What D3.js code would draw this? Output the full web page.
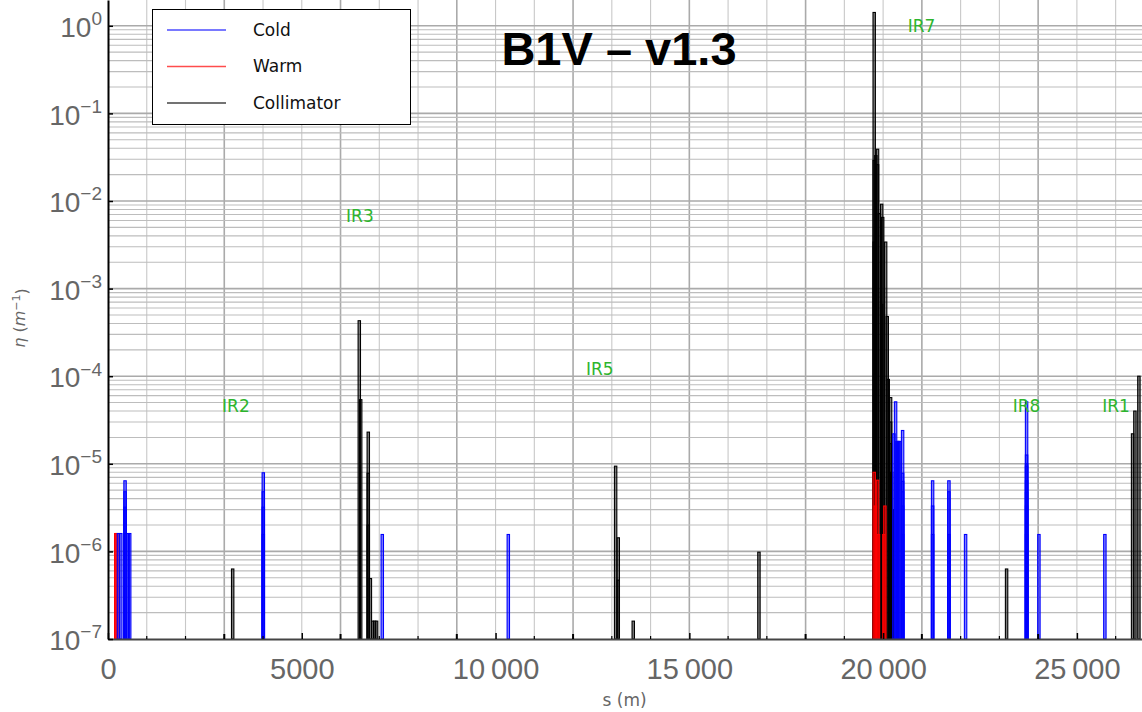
<!DOCTYPE html>
<html>
<head>
<meta charset="utf-8">
<script src="https://cdn.jsdelivr.net/npm/d3@7"></script>
<style>
  body { margin: 0; background: #fff; }
  svg { display: block; font-family: "DejaVu Sans", sans-serif; }
</style>
</head>
<body>
<div id="chart"></div>
<script>
// loss positions s (m) and eta (1/m)
const coldS   = [270, 330, 440, 440, 440, 450, 520, 560,
                 4007, 4007, 4007, 4007, 7077, 10329,
                 20279, 20322, 20356, 20380, 20405, 20433, 20503, 20503, 20503, 20503, 20503, 20503,
                 21277, 21277, 21277, 21698, 21698, 21698, 22128,
                 23702, 23702, 23702, 23702, 23702, 23702, 23702, 23702, 24020, 25722];
const coldEta = [1.6e-6, 1.6e-6, 6.4e-6, 4.8e-6, 3.2e-6, 1.6e-6, 1.6e-6, 1.6e-6,
                 7.9e-6, 4.8e-6, 3.2e-6, 1.56e-6, 1.56e-6, 1.56e-6,
                 2.2e-5, 5.1e-5, 1.8e-5, 1.8e-5, 1.8e-5, 1.8e-5, 2.4e-5, 7.8e-6, 6.3e-6, 4.8e-6, 3.3e-6, 1.56e-6,
                 6.4e-6, 3.3e-6, 1.56e-6, 6.4e-6, 4.8e-6, 1.56e-6, 1.56e-6,
                 5.1e-5, 1.26e-5, 9.4e-6, 6.4e-6, 4.7e-6, 3.3e-6, 1.56e-6, 1.0e-5, 1.56e-6, 1.56e-6];

const warmS   = [200, 230, 19770, 19857, 19800, 19880, 20046, 20020];
const warmEta = [1.6e-6, 1.6e-6, 8.0e-6, 6.5e-6, 3.3e-6, 1.56e-6, 3.3e-6, 1.56e-6];

const collS   = [3217, 6484, 6520, 6716, 6716, 6716, 6770, 6830, 6880, 6930,
                 13098, 13166, 13166, 13553, 16796,
                 19770, 19770, 19770, 19813, 19856, 19856, 19902, 19963, 19963, 19989,
                 20065, 20106, 20132, 20193, 20193, 20193, 20220, 20240,
                 23186, 26437, 26497, 26600];
const collEta = [6.3e-7, 4.3e-4, 5.4e-5, 2.3e-5, 7.8e-6, 2.0e-6, 4.9e-7, 1.6e-7, 1.6e-7, 1.6e-7,
                 9.4e-6, 1.43e-6, 4.7e-7, 1.6e-7, 9.8e-7,
                 1.42, 0.029, 3.4e-3, 0.033, 0.039, 0.026, 7.2e-3, 9.2e-3, 6.6e-4, 6.5e-3,
                 3.4e-3, 4.8e-4, 9.2e-5, 5.7e-5, 3.0e-5, 1.7e-5, 8.0e-6, 3.0e-6,
                 6.3e-7, 2.2e-5, 4.0e-5, 1.0e-4];

// insertion region labels
const irNames = ['IR2', 'IR3', 'IR5', 'IR7', 'IR8', 'IR1'];
const irS     = [3300, 6500, 12690, 20990, 23700, 26010];
const irEta   = [4.6e-5, 6.8e-3, 1.2e-4, 1.0, 4.6e-5, 4.6e-5];

const xTicks = [0, 5000, 10000, 15000, 20000, 25000];
const xTickLabels = ['0', '5000', '10\u2009000', '15\u2009000', '20\u2009000', '25\u2009000'];
const yTicks = [1e-7, 1e-6, 1e-5, 1e-4, 1e-3, 1e-2, 1e-1, 1];
const yTickExp = ['\u22127', '\u22126', '\u22125', '\u22124', '\u22123', '\u22122', '\u22121', '0'];

const legendNames = ['Cold', 'Warm', 'Collimator'];
const legendColors = ['#4d4dff', '#ff4d4d', '#444'];

const W = 1142, H = 712;
const plotLeft = 108, plotRight = 1142, plotTop = 0, plotBottom = 639;

const svg = d3.select('#chart').append('svg')
    .attr('width', W).attr('height', H);

const x = d3.scaleLinear().domain([0, 26680]).range([plotLeft, plotRight]);
const y = d3.scaleLog().domain([1e-7, 1.97]).range([plotBottom, plotTop]);

// grid
const grid = svg.append('g');
const vLines = d3.range(1000, 26680, 1000);
grid.selectAll('.vg').data(vLines).enter().append('line')
    .attr('x1', d => x(d)).attr('x2', d => x(d))
    .attr('y1', plotTop).attr('y2', plotBottom)
    .attr('stroke', d => d % 3000 === 0 ? '#aaa' : '#c8c8c8')
    .attr('stroke-width', d => d % 3000 === 0 ? 1.6 : 1.1);

const hLines = [];
for (let k = -7; k <= 0; k++) {
    for (let m = 1; m <= 9; m++) {
        const v = m * Math.pow(10, k);
        if (v > 1e-7 && v < 1.97) hLines.push({ v, major: m === 1 });
    }
}
grid.selectAll('.hg').data(hLines).enter().append('line')
    .attr('x1', plotLeft).attr('x2', plotRight)
    .attr('y1', d => y(d.v)).attr('y2', d => y(d.v))
    .attr('stroke', d => d.major ? '#aaa' : '#bdbdbd')
    .attr('stroke-width', d => d.major ? 1.6 : 1.1);

// bars
function drawBars(sArr, etaArr, color) {
    const data = sArr.map((s, i) => ({ s, eta: etaArr[i] }));
    svg.append('g').selectAll('rect')
        .data(data)
        .enter().append('rect')
        .attr('x', d => x(d.s) - 1.2)
        .attr('width', 2.4)
        .attr('y', d => y(d.eta))
        .attr('height', d => y(1e-7) - y(d.eta))
        .attr('fill', color)
        .attr('fill-opacity', 0.5)
        .attr('stroke', color)
        .attr('stroke-width', 1.1);
}
drawBars(collS, collEta, '#000');
drawBars(warmS, warmEta, '#ff0000');
drawBars(coldS, coldEta, '#0000ff');

// axes
const xAxis = svg.append('g')
    .attr('transform', `translate(0,${plotBottom})`)
    .call(d3.axisBottom(x).tickValues(xTicks).tickFormat((d, i) => xTickLabels[i])
        .tickSizeInner(-6).tickSizeOuter(0).tickPadding(14));
xAxis.select('.domain').attr('stroke', '#444').attr('stroke-width', 2);
xAxis.selectAll('.tick line').attr('stroke', '#000').attr('stroke-width', 1.5);
xAxis.selectAll('.tick text')
    .attr('fill', '#666').style('font-size', '29px')
    .attr('y', 40).attr('dy', null);

svg.append('g').selectAll('line')
    .data(vLines.filter(d => d % 5000 !== 0))
    .enter().append('line')
    .attr('x1', d => x(d)).attr('x2', d => x(d))
    .attr('y1', plotBottom).attr('y2', d => plotBottom - (d % 3000 === 0 ? 5 : 3))
    .attr('stroke', '#000').attr('stroke-width', d => d % 3000 === 0 ? 2 : 1.2);

const yAxis = svg.append('g')
    .attr('transform', `translate(${plotLeft},0)`)
    .call(d3.axisLeft(y).tickValues(yTicks).tickFormat(() => '')
        .tickSizeInner(-5).tickSizeOuter(0).tickPadding(8));
yAxis.select('.domain').attr('stroke', '#000').attr('stroke-width', 2);
yAxis.selectAll('.tick line').attr('stroke', '#000').attr('stroke-width', 1.5);
yAxis.selectAll('.tick text').each(function (d, i) {
    const t = d3.select(this)
        .attr('fill', '#666').style('font-size', '28px')
        .attr('x', -6).attr('dy', '0.38em');
    t.append('tspan').text('10');
    t.append('tspan').attr('dy', '-0.62em').style('font-size', '19px').text(yTickExp[i]);
});

// axis titles
svg.append('text')
    .attr('x', x(13330)).attr('y', 706)
    .attr('text-anchor', 'middle')
    .attr('fill', '#666').style('font-size', '17px')
    .text('s (m)');

const yl = svg.append('text')
    .attr('transform', 'translate(25,318) rotate(-90)')
    .attr('text-anchor', 'middle')
    .attr('fill', '#666').style('font-size', '16px');
yl.append('tspan').style('font-style', 'italic').text('\u03b7');
yl.append('tspan').text(' (');
yl.append('tspan').style('font-style', 'italic').text('m');
yl.append('tspan').attr('dy', '-0.45em').style('font-size', '11px').text('\u22121');
yl.append('tspan').attr('dy', '0.45em').text(')');

// IR labels
svg.append('g').selectAll('text')
    .data(irNames)
    .enter().append('text')
    .attr('x', (d, i) => x(irS[i]))
    .attr('y', (d, i) => y(irEta[i]))
    .attr('text-anchor', 'middle')
    .attr('dy', '0.35em')
    .attr('fill', '#2db52d')
    .style('font-size', '17px')
    .text(d => d);

// title
svg.append('text')
    .attr('x', 619).attr('y', 65)
    .attr('text-anchor', 'middle')
    .style('font-family', '"Liberation Sans", Arial, sans-serif')
    .style('font-weight', 'bold')
    .style('font-size', '47px')
    .attr('fill', '#000')
    .text('B1V \u2013 v1.3');

// legend
const legend = svg.append('g');
legend.append('rect')
    .attr('x', 152.5).attr('y', 9.5)
    .attr('width', 258).attr('height', 115)
    .attr('fill', '#fff').attr('stroke', '#000').attr('stroke-width', 1);
legendNames.forEach((name, i) => {
    const ly = 30 + i * 36.5;
    legend.append('line')
        .attr('x1', 167).attr('x2', 226)
        .attr('y1', ly).attr('y2', ly)
        .attr('stroke', legendColors[i]).attr('stroke-width', 1.5);
    legend.append('text')
        .attr('x', 253).attr('y', ly).attr('dy', '0.35em')
        .attr('fill', '#111').style('font-size', '17px')
        .text(name);
});
</script>
</body>
</html>
